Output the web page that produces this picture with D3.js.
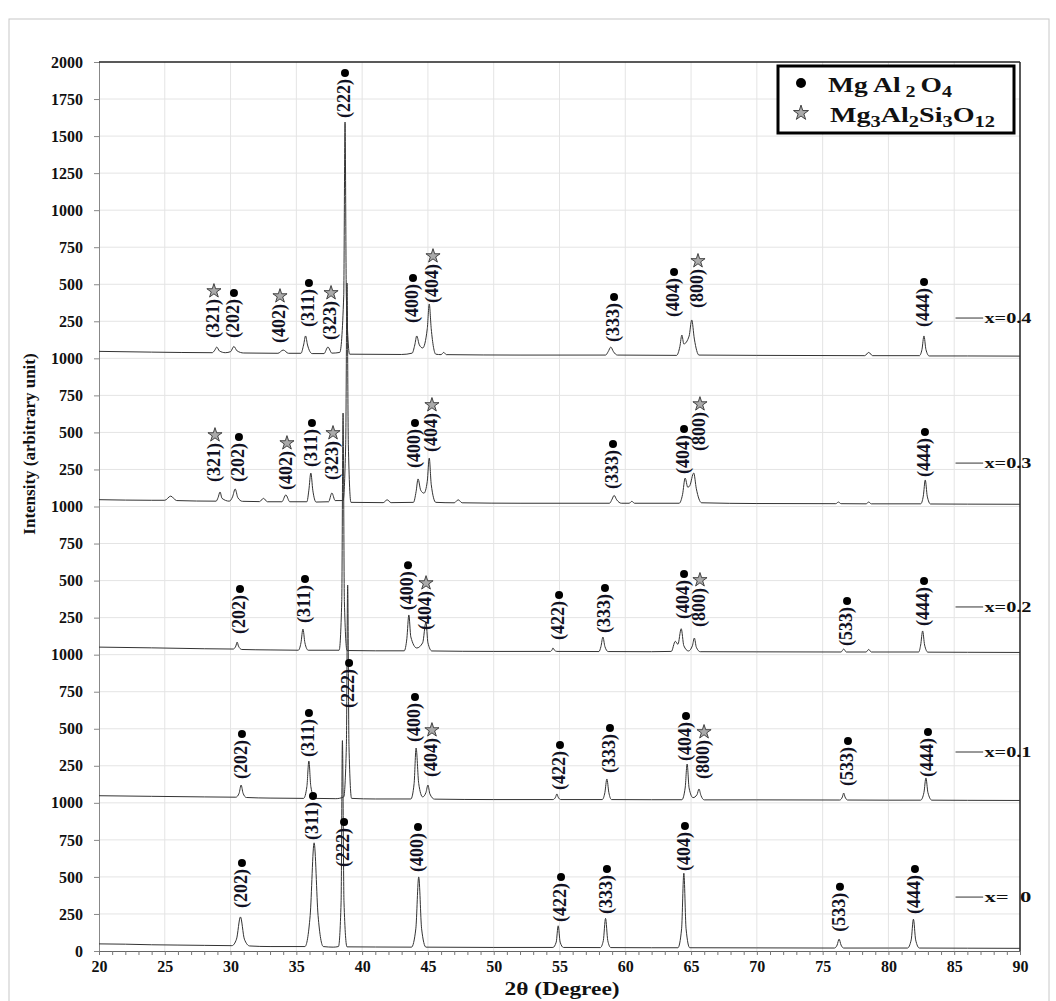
<!DOCTYPE html>
<html>
<head>
<meta charset="utf-8">
<script src="https://cdn.jsdelivr.net/npm/d3@7"></script>
<style>
body { margin: 0; background: #fff; }
svg text { font-family: "Liberation Serif", "Times New Roman", serif; }
</style>
</head>
<body>
<div id="chart-area"></div>
<script>
/*
*    XRD patterns, MgAl2O4 / Mg3Al2Si3O12
*/

// ---- data (2theta, counts) ----
var seriesNames = ["x=  0", "x=0.1", "x=0.2", "x=0.3", "x=0.4"];
var seriesOffset = [0, 1000, 2000, 3000, 4000];
var tagLevel = [364, 343, 322, 293, 272];

var pattern0 = [[20,48],[22,46],[24,42],[26,40],[28,38],[30.1,36],[30.45,80],[30.75,230],[31.05,80],[31.45,34],[33,30],[35.65,30],[36.05,240],[36.35,730],[36.65,240],[37.05,30],[37.8,26],[38.2,30],[38.4,330],[38.5,1420],[38.62,330],[38.85,28],[41,27],[43.75,26],[44.08,150],[44.3,500],[44.52,150],[44.85,26],[50,24],[54.5,24],[54.75,60],[54.9,170],[55.05,60],[55.3,24],[58.1,23],[58.33,70],[58.5,220],[58.67,70],[58.9,23],[62,22],[64.0,22],[64.28,150],[64.45,525],[64.62,150],[64.9,22],[70,21],[75.9,20],[76.1,40],[76.25,80],[76.4,40],[76.6,20],[80,20],[81.45,20],[81.73,75],[81.9,215],[82.07,75],[82.35,20],[86,19],[90,18]];

var pattern01 = [[20,48],[24,44],[28,40],[30.4,38],[30.65,65],[30.8,120],[30.95,65],[31.2,36],[33,32],[35.55,30],[35.8,110],[35.95,282],[36.1,110],[36.4,30],[38.0,28],[38.6,40],[38.8,380],[38.9,1470],[39.0,380],[39.2,30],[41,26],[43.7,26],[43.95,130],[44.1,370],[44.3,130],[44.6,40],[44.85,70],[45.0,120],[45.15,60],[45.5,25],[50,22],[54.5,22],[54.7,38],[54.8,60],[54.9,38],[55.1,22],[58.25,22],[58.45,70],[58.6,161],[58.75,70],[58.95,22],[62,21],[64.3,21],[64.55,100],[64.7,262],[64.85,100],[65.15,35],[65.45,55],[65.6,93],[65.75,50],[66.0,20],[70,20],[76.3,19],[76.5,40],[76.6,66],[76.7,40],[76.9,19],[80,18],[82.45,18],[82.7,70],[82.85,168],[83.0,70],[83.3,18],[86,17],[90,16]];

var pattern02 = [[20,51],[24,46],[28,40],[30.2,38],[30.4,58],[30.5,85],[30.6,58],[30.85,35],[33,32],[35.15,30],[35.35,80],[35.5,173],[35.65,80],[35.9,30],[38.25,30],[38.45,360],[38.55,1631],[38.65,360],[38.85,28],[41,26],[43.2,26],[43.4,110],[43.55,268],[43.7,120],[44.15,45],[44.6,80],[44.85,220],[45.0,80],[45.3,25],[50,22],[54.3,22],[54.45,35],[54.5,45],[54.6,32],[54.8,22],[58.0,21],[58.15,55],[58.3,119],[58.45,55],[58.7,21],[62,20],[63.5,22],[63.8,90],[64.0,70],[64.25,175],[64.45,60],[64.8,25],[65.1,60],[65.25,112],[65.4,50],[65.7,20],[70,19],[76.4,18],[76.6,38],[76.8,18],[78.3,18],[78.5,35],[78.7,18],[82.3,18],[82.45,65],[82.6,160],[82.75,65],[83.0,17],[86,16],[90,15]];

var pattern03 = [[20,46],[24,42],[25.0,42],[25.45,70],[25.9,40],[28.9,36],[29.05,60],[29.2,98],[29.35,55],[29.9,36],[30.15,65],[30.35,118],[30.55,60],[30.9,35],[32.2,33],[32.5,55],[32.8,32],[33.9,32],[34.2,78],[34.5,32],[35.8,32],[35.95,110],[36.1,226],[36.25,110],[36.5,30],[37.45,32],[37.7,91],[37.95,40],[38.55,40],[38.75,420],[38.85,1508],[38.95,420],[39.15,28],[41.6,26],[41.9,45],[42.2,26],[43.9,28],[44.1,100],[44.25,186],[44.45,110],[44.7,90],[44.95,170],[45.1,327],[45.25,150],[45.6,28],[47.0,25],[47.3,45],[47.6,25],[52,22],[58.8,22],[59.0,50],[59.15,75],[59.35,45],[59.7,22],[60.3,22],[60.5,35],[60.7,22],[64.1,22],[64.35,80],[64.55,192],[64.75,130],[64.9,140],[65.2,226],[65.4,120],[65.8,25],[70,20],[76.0,19],[76.2,30],[76.4,19],[78.3,18],[78.5,30],[78.7,18],[82.45,18],[82.65,70],[82.8,179],[82.95,70],[83.2,17],[86,16],[90,15]];

var pattern04 = [[20,47],[24,42],[28.6,38],[28.8,55],[28.95,76],[29.15,50],[29.6,38],[30.0,45],[30.25,80],[30.5,50],[31.0,36],[33.6,34],[34.0,56],[34.4,34],[35.35,34],[35.55,90],[35.7,151],[35.85,90],[36.2,32],[37.1,32],[37.4,76],[37.7,35],[38.3,40],[38.6,420],[38.7,1595],[38.8,420],[39.05,28],[43,26],[43.8,35],[44.0,90],[44.15,151],[44.35,90],[44.6,70],[44.95,200],[45.1,367],[45.25,200],[45.6,28],[46.0,25],[46.2,40],[46.4,25],[52,22],[58.5,22],[58.7,45],[58.9,76],[59.1,45],[59.4,22],[63.9,20],[64.15,80],[64.3,157],[64.45,97],[64.85,150],[65.05,259],[65.25,130],[65.6,22],[70,20],[78.2,18],[78.5,40],[78.8,18],[82.35,18],[82.55,60],[82.7,151],[82.85,60],[83.1,16],[86,16],[90,15]];

// peak labels: [hkl, 2theta, level, phase]  s = MgAl2O4, g = Mg3Al2Si3O12
var labels0 = [["(202)",30.79,290,"s"],["(311)",36.19,749,"s"],["(222)",38.55,567,"s"],["(400)",44.17,533,"s"],["(422)",55.04,196,"s"],["(333)",58.53,250,"s"],["(404)",64.46,540,"s"],["(533)",76.24,130,"s"],["(444)",81.94,250,"s"]];
var labels01 = [["(202)",30.79,161,"s"],["(311)",35.88,309,"s"],["(222)",38.93,640,"s"],["(400)",43.94,410,"s"],["(404)",45.23,174,"g"],["(422)",54.96,87,"s"],["(333)",58.76,201,"s"],["(404)",64.54,282,"s"],["(800)",65.91,161,"g"],["(533)",76.85,114,"s"],["(444)",82.93,174,"s"]];
var labels02 = [["(202)",30.64,140,"s"],["(311)",35.58,214,"s"],["(400)",43.41,300,"s"],["(404)",44.78,166,"g"],["(422)",54.89,99,"s"],["(333)",58.38,146,"s"],["(404)",64.39,241,"s"],["(800)",65.6,187,"g"],["(533)",76.78,59,"s"],["(444)",82.63,193,"s"]];
var labels03 = [["(321)",28.74,165,"g"],["(202)",30.56,165,"s"],["(402)",34.21,111,"g"],["(311)",36.11,267,"s"],["(323)",37.71,179,"g"],["(400)",43.94,260,"s"],["(404)",45.23,368,"g"],["(333)",58.99,118,"s"],["(404)",64.39,219,"s"],["(800)",65.6,374,"g"],["(444)",82.7,199,"s"]];
var labels04 = [["(321)",28.66,137,"g"],["(202)",30.18,137,"s"],["(402)",33.68,103,"g"],["(311)",35.88,211,"s"],["(323)",37.56,124,"g"],["(222)",38.62,1622,"s"],["(400)",43.79,238,"s"],["(404)",45.31,373,"g"],["(333)",59.07,110,"s"],["(404)",63.63,279,"s"],["(800)",65.45,340,"g"],["(444)",82.63,211,"s"]];

var xTicks = d3.range(20, 91, 1);
var yTickValues = d3.range(0, 6001, 250);
var yTickLabels = ["0","250","500","750","1000","250","500","750","1000","250","500","750","1000","250","500","750","1000","250","500","750","1000","1250","1500","1750","2000"];

var patterns = [pattern0, pattern01, pattern02, pattern03, pattern04];
var allLabels = [labels0, labels01, labels02, labels03, labels04];

// ---- layout ----
var svgW = 1056, svgH = 1001;
var margin = {top: 62, left: 99};
var width = 921, height = 889;

var svg = d3.select("#chart-area").append("svg")
	.attr("width", svgW)
	.attr("height", svgH);

// outer frame
svg.append("rect")
	.attr("x", 9).attr("y", 19)
	.attr("width", 1040).attr("height", 1000)
	.attr("fill", "none").attr("stroke", "#c8c8c8");

var g = svg.append("g")
	.attr("transform", "translate(" + margin.left + ", " + margin.top + ")");

var x = d3.scaleLinear().domain([20, 90]).range([0, width]);
var y = d3.scaleLinear().domain([0, 6000]).range([height, 0]);

// grid
g.append("g").selectAll("line").data(d3.range(25, 90, 5)).enter().append("line")
	.attr("x1", d => x(d)).attr("x2", d => x(d))
	.attr("y1", 0).attr("y2", height)
	.attr("stroke", "#e4e4e4");
g.append("g").selectAll("line").data(yTickValues.slice(1, -1)).enter().append("line")
	.attr("x1", 0).attr("x2", width)
	.attr("y1", d => y(d)).attr("y2", d => y(d))
	.attr("stroke", "#e4e4e4");

// axes
var yAxis = d3.axisLeft(y).tickValues(yTickValues)
	.tickFormat((d, i) => yTickLabels[i]).tickSize(5).tickPadding(11);
var yg = g.append("g").call(yAxis);
yg.select(".domain").attr("stroke", "#888");
yg.selectAll(".tick line").attr("stroke", "#888");
yg.selectAll(".tick text")
	.attr("font-family", "Liberation Serif").attr("font-weight", "bold")
	.attr("font-size", "16px").attr("fill", "#111");

var xAxis = d3.axisBottom(x).tickValues(xTicks)
	.tickFormat(d => (d % 5 === 0 ? d : "")).tickSize(4).tickPadding(6);
var xg = g.append("g").attr("transform", "translate(0," + height + ")").call(xAxis);
xg.select(".domain").attr("stroke", "#666");
xg.selectAll(".tick line").attr("stroke", "#777");
xg.selectAll(".tick text")
	.attr("font-family", "Liberation Serif").attr("font-weight", "bold")
	.attr("font-size", "16px").attr("fill", "#111");

// top and right frame of the plot
g.append("line").attr("x1", 0).attr("x2", width).attr("y1", 0).attr("y2", 0)
	.attr("stroke", "#222").attr("stroke-width", 1.5);
g.append("line").attr("x1", width).attr("x2", width).attr("y1", 0).attr("y2", height)
	.attr("stroke", "#222").attr("stroke-width", 1.5);

// axis titles
g.append("text")
	.attr("x", x(55.2)).attr("y", height + 44)
	.attr("text-anchor", "middle")
	.attr("font-size", "19px").attr("font-weight", "bold")
	.attr("textLength", 115).attr("lengthAdjust", "spacingAndGlyphs")
	.attr("fill", "#111")
	.text("2θ (Degree)");

svg.append("text")
	.attr("transform", "translate(29,444) rotate(-90)")
	.attr("text-anchor", "middle").attr("dominant-baseline", "central")
	.attr("font-size", "17px").attr("font-weight", "bold")
	.attr("fill", "#111")
	.text("Intensity (arbitrary unit)");

// patterns
patterns.forEach((p, i) => {
	var line = d3.line()
		.x(d => x(d[0]))
		.y(d => y(d[1] + seriesOffset[i]))
		.curve(d3.curveMonotoneX);
	g.append("path").datum(p)
		.attr("d", line)
		.attr("fill", "none")
		.attr("stroke", "#333")
		.attr("stroke-width", 1);

	// series tag on the right
	g.append("line")
		.attr("x1", x(85.1)).attr("x2", x(87.2))
		.attr("y1", y(tagLevel[i] + seriesOffset[i])).attr("y2", y(tagLevel[i] + seriesOffset[i]))
		.attr("stroke", "#333");
	g.append("text")
		.attr("x", x(87.3)).attr("y", y(tagLevel[i] + seriesOffset[i]))
		.attr("dominant-baseline", "central")
		.attr("font-size", "15px").attr("font-weight", "bold")
		.attr("textLength", 47).attr("lengthAdjust", "spacingAndGlyphs")
		.style("white-space", "pre")
		.attr("fill", "#111")
		.text(seriesNames[i]);
});

var star = d3.symbol().type(d3.symbolStar).size(62);

// peak labels + phase markers
allLabels.forEach((labels, i) => {
	labels.forEach(l => {
		var lx = x(l[1]), ly = y(l[2] + seriesOffset[i]);
		var t = g.append("text")
			.attr("x", lx).attr("y", ly)
			.attr("transform", "rotate(-90," + lx + "," + ly + ")")
			.attr("dominant-baseline", "central")
			.attr("font-size", "18px").attr("font-weight", "bold")
			.attr("fill", "#111122")
			.text(l[0]);
		var len = t.node().getComputedTextLength();
		var my = ly - len - 7;
		if (l[3] === "s") {
			g.append("circle").attr("cx", lx + 1).attr("cy", my + 1).attr("r", 4).attr("fill", "#000");
		} else {
			g.append("path").attr("d", star)
				.attr("transform", "translate(" + (lx + 1) + "," + (my - 1) + ")")
				.attr("fill", "#aaa").attr("stroke", "#333").attr("stroke-width", 0.9);
		}
	});
});

// legend
var lg = svg.append("g");
lg.append("rect")
	.attr("x", 778).attr("y", 66).attr("width", 236).attr("height", 67)
	.attr("fill", "#fff").attr("stroke", "#000").attr("stroke-width", 3);
lg.append("circle").attr("cx", 801).attr("cy", 83).attr("r", 5).attr("fill", "#000");
lg.append("path").attr("d", d3.symbol().type(d3.symbolStar).size(70))
	.attr("transform", "translate(801,113)")
	.attr("fill", "#aaa").attr("stroke", "#333").attr("stroke-width", 0.9);

function formula(xp, yp, parts, w) {
	var t = lg.append("text").attr("x", xp).attr("y", yp)
		.attr("font-size", "22px").attr("font-weight", "bold").attr("fill", "#111")
		.style("white-space", "pre")
		.attr("textLength", w).attr("lengthAdjust", "spacingAndGlyphs");
	var low = false;
	parts.forEach(p => {
		var sub = p[1] === 1;
		var s = t.append("tspan").text(p[0]).attr("font-size", sub ? "16px" : "22px");
		if (sub && !low) { s.attr("dy", 5); low = true; }
		else if (!sub && low) { s.attr("dy", -5); low = false; }
	});
}
formula(828, 92, [["Mg Al", 0], [" 2 ", 1], ["O", 0], ["4", 1]], 124);
formula(830, 122, [["Mg", 0], ["3", 1], ["Al", 0], ["2", 1], ["Si", 0], ["3", 1], ["O", 0], ["12", 1]], 165);
</script>
</body>
</html>
